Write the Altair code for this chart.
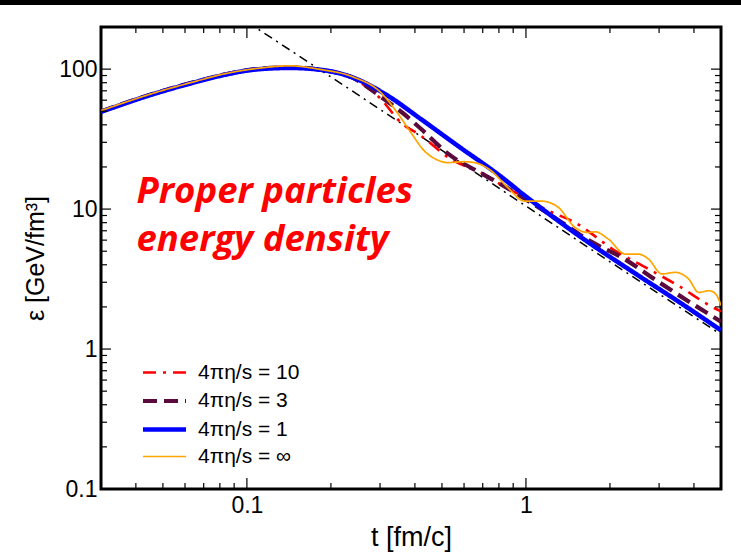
import altair as alt
import pandas as pd

# ---------------- data ----------------
SERIES = ["4πη/s = 10", "4πη/s = 3", "4πη/s = 1", "4πη/s = ∞"]
COLORS = ["#ff0000", "#5a0a3c", "#0000ff", "#ffa500"]
DASHES = [[13, 7, 3, 7], [14, 7], [1, 0], [1, 0]]
WIDTHS = [2.6, 4.2, 4.6, 1.7]

t_10 = [0.03, 0.047, 0.065, 0.082, 0.108, 0.143, 0.183, 0.24, 0.3, 0.356, 0.42, 0.539, 0.69, 0.85, 1.0, 1.17, 1.5, 2.09, 2.75, 3.5, 4.78, 5.0]
e_10 = [50, 67.5, 81, 91, 100.5, 104, 99, 86, 62, 41.6, 33.4, 22.7, 18.2, 14.2, 12.0, 10.0, 8.0, 5.04, 3.73, 2.85, 1.94, 1.86]

t_3 = [0.03, 0.047, 0.065, 0.082, 0.108, 0.143, 0.183, 0.24, 0.31, 0.36, 0.42, 0.524, 0.71, 0.85, 1.0, 1.3, 1.7, 2.21, 3.0, 4.0, 5.0]
e_3 = [49.8, 67.5, 81, 91, 100, 103, 99, 86.5, 61, 49, 37.5, 25, 17.5, 14.3, 11.7, 8.4, 5.9, 4.5, 3.0, 2.07, 1.57]

t_1 = [0.03, 0.047, 0.065, 0.082, 0.108, 0.143, 0.183, 0.24, 0.32, 0.42, 0.57, 0.8, 1.0, 1.58, 2.5, 3.5, 5.0]
e_1 = [49.5, 67, 80.5, 90.5, 99.5, 102, 99, 87, 64.5, 44, 28.3, 17.5, 12.3, 6.27, 3.4, 2.2, 1.36]

t_inf = [0.03, 0.047, 0.065, 0.082, 0.108, 0.143, 0.183, 0.24, 0.302, 0.346, 0.387, 0.432, 0.48, 0.524, 0.6, 0.653, 0.75, 0.862, 0.99, 1.136, 1.305, 1.498, 1.67, 1.77, 1.975, 2.27, 2.53, 2.75, 3.07, 3.43, 3.83, 4.16, 4.53, 4.78, 5.0]
e_inf = [50.5, 68, 81.5, 92, 101, 105.5, 99.5, 88, 68, 48.8, 35.2, 26.1, 22.5, 21.5, 21.8, 21.5, 18.8, 14.2, 11.4, 11.4, 10.3, 7.4, 6.8, 6.88, 6.1, 4.77, 4.77, 4.39, 3.44, 3.53, 3.16, 2.54, 2.61, 2.48, 2.05]

t_ideal = [0.1, 0.2, 0.5, 1.0, 2.0, 5.0]
e_ideal = [218, 88, 26.3, 10.5, 4.2, 1.27]

x_major = [0.1, 1]
x_minor = [0.04, 0.05, 0.06, 0.07, 0.08, 0.09, 0.2, 0.3, 0.4, 0.5, 0.6, 0.7, 0.8, 0.9, 2, 3, 4]
y_major = [1, 10, 100]
y_minor = [0.2, 0.3, 0.4, 0.5, 0.6, 0.7, 0.8, 0.9, 2, 3, 4, 5, 6, 7, 8, 9,
           20, 30, 40, 50, 60, 70, 80, 90]

note_lines = ["Proper particles", "energy density"]
note_t = [0.0402, 0.0402]
note_e = [11.1, 5.04]

# ---------------- tables ----------------
rows = []
for name, ts, es in zip(SERIES, [t_10, t_3, t_1, t_inf], [e_10, e_3, e_1, e_inf]):
    for i, (t, e) in enumerate(zip(ts, es)):
        rows.append({"series": name, "t": t, "eps": e, "i": i})
curves = pd.DataFrame(rows)
ideal = pd.DataFrame({"t": t_ideal, "eps": e_ideal})
xmaj = pd.DataFrame({"t": x_major})
xmin = pd.DataFrame({"t": x_minor})
ymaj = pd.DataFrame({"eps": y_major})
ymin = pd.DataFrame({"eps": y_minor})
notes = pd.DataFrame({"t": note_t, "eps": note_e, "txt": note_lines})

W, H = 620, 462
FONT = "Liberation Sans"

xs = alt.Scale(type="log", domain=[0.03, 5], nice=False)
ys = alt.Scale(type="log", domain=[0.1, 200], nice=False)

x_axis = alt.Axis(values=[0.1, 1], format="~g", ticks=False, domain=False, grid=False,
                  labelFontSize=23, labelFont=FONT, labelColor="black", labelPadding=5,
                  title="t [fm/c]", titleFont=FONT, titleFontSize=27, titleFontWeight="normal",
                  titleColor="black", titlePadding=7, labelFlush=False)
y_axis = alt.Axis(values=[0.1, 1, 10, 100], format="~g", ticks=False, domain=False, grid=False,
                  labelFontSize=23, labelFont=FONT, labelColor="black", labelPadding=4,
                  title="ε [GeV/fm³]", titleFont=FONT, titleFontSize=25, titleFontWeight="normal",
                  titleColor="black", titlePadding=10, labelFlush=False)


def X(field="t"):
    return alt.X(f"{field}:Q", scale=xs, axis=x_axis, title="t [fm/c]")


def Y(field="eps"):
    return alt.Y(f"{field}:Q", scale=ys, axis=y_axis, title="ε [GeV/fm³]")


ideal_line = alt.Chart(ideal).mark_line(color="black", strokeWidth=1.5, strokeDash=[9, 5, 2, 5], clip=True).encode(
    x=X(), y=Y(),
)

lines = alt.Chart(curves).mark_line(clip=True, interpolate="monotone").encode(
    x=X(), y=Y(),
    order="i:Q",
    color=alt.Color("series:N", scale=alt.Scale(domain=SERIES, range=COLORS),
                    legend=alt.Legend(orient="none", legendX=51, legendY=334, title=None,
                                      symbolType="M-2.15,0H2.15", symbolSize=400,
                                      labelFont=FONT, labelFontSize=21, labelColor="black",
                                      labelOffset=21, rowPadding=5.5, padding=0)),
    strokeDash=alt.StrokeDash("series:N", scale=alt.Scale(domain=SERIES, range=DASHES), legend=None),
    strokeWidth=alt.StrokeWidth("series:N", scale=alt.Scale(type="ordinal", domain=SERIES, range=WIDTHS), legend=None),
)


def ticks_x(df, length, top):
    y0 = 0 if top else H
    y1 = length if top else H - length
    return alt.Chart(df).mark_rule(color="black", strokeWidth=1.2).encode(
        x=X(), y=alt.value(y0), y2=alt.value(y1))


def ticks_y(df, length, right):
    x0 = W if right else 0
    x1 = W - length if right else length
    return alt.Chart(df).mark_rule(color="black", strokeWidth=1.2).encode(
        y=Y(), x=alt.value(x0), x2=alt.value(x1))


tick_layers = [
    ticks_x(xmaj, 11, False), ticks_x(xmaj, 11, True),
    ticks_x(xmin, 6, False), ticks_x(xmin, 6, True),
    ticks_y(ymaj, 10, False), ticks_y(ymaj, 10, True),
    ticks_y(ymin, 6, False), ticks_y(ymin, 6, True),
]

note = alt.Chart(notes).mark_text(align="left", baseline="alphabetic", color="#ff0000",
                                  font="Open Sans", fontSize=36.5, fontStyle="italic", fontWeight="bold").encode(
    x=X(), y=Y(), text="txt:N")

topbar = alt.Chart(pd.DataFrame({"k": [0]})).mark_rule(color="black", strokeWidth=5, clip=False).encode(
    x=alt.value(-101), x2=alt.value(W + 20), y=alt.value(-24.5))

chart = alt.layer(ideal_line, lines, *tick_layers, note, topbar).properties(
    width=W, height=H,
    background="white",
    autosize=alt.AutoSizeParams(type="none"),
    padding={"left": 101, "top": 27, "right": 20, "bottom": 69},
).configure_view(stroke="black", strokeWidth=3)

chart.save("out.html", embed_options={"renderer": "svg", "actions": False})
